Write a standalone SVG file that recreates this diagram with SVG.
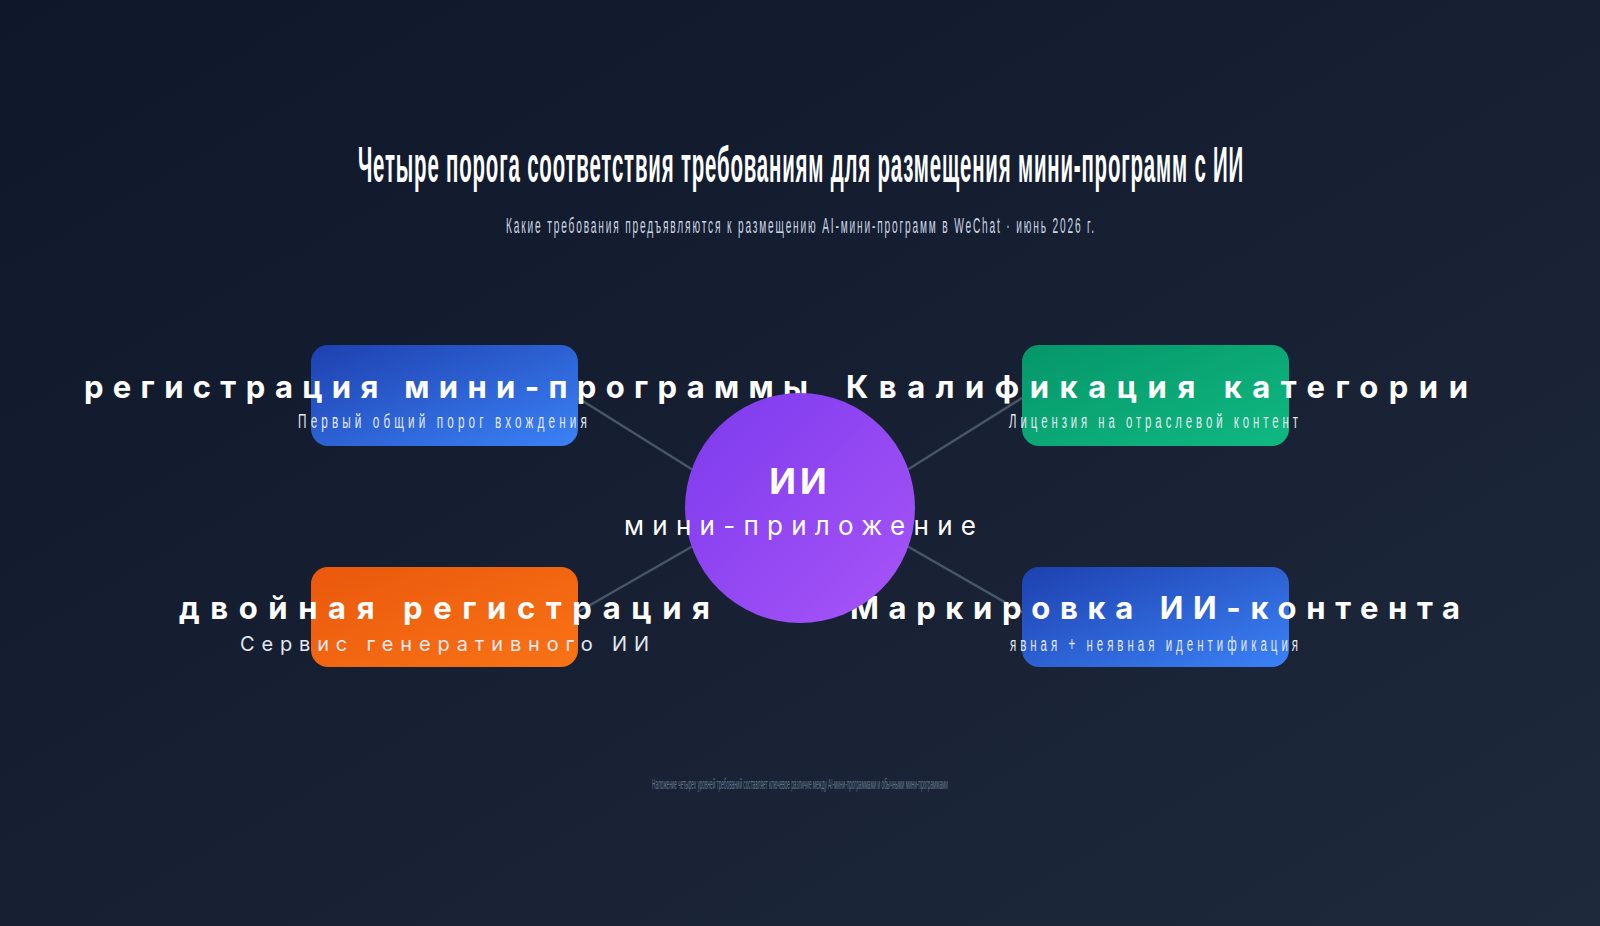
<svg xmlns="http://www.w3.org/2000/svg" width="1600" height="926" viewBox="0 0 1600 926">
<defs>
<linearGradient id="bg" x1="0" y1="0" x2="1" y2="1">
<stop offset="0" stop-color="#0f172a"/>
<stop offset="1" stop-color="#1e293b"/>
</linearGradient>
<linearGradient id="gBlue" x1="0" y1="0" x2="1" y2="1">
<stop offset="0" stop-color="#1e40af"/>
<stop offset="1" stop-color="#3b82f6"/>
</linearGradient>
<linearGradient id="gGreen" x1="0" y1="0" x2="1" y2="1">
<stop offset="0" stop-color="#059669"/>
<stop offset="1" stop-color="#10b981"/>
</linearGradient>
<linearGradient id="gOrange" x1="0" y1="0" x2="1" y2="1">
<stop offset="0" stop-color="#ea580c"/>
<stop offset="1" stop-color="#f97316"/>
</linearGradient>
<linearGradient id="gPurple" x1="0" y1="0" x2="1" y2="1">
<stop offset="0" stop-color="#7c3aed"/>
<stop offset="1" stop-color="#a855f7"/>
</linearGradient>
</defs>
<style>
.title{font-family:"Liberation Sans",Arial,sans-serif;font-weight:bold;font-size:50px;fill:#ffffff;letter-spacing:2px;}
.sub{font-family:"Liberation Sans",Arial,sans-serif;font-size:22px;fill:#cbd5e1;letter-spacing:4px;}
.lbl{font-family:Inter,"Liberation Sans",sans-serif;font-weight:bold;font-size:31px;fill:#ffffff;}
.desc{font-family:"Liberation Sans",Arial,sans-serif;font-size:20px;fill:#e2e8f0;letter-spacing:7px;}
.desc2{font-family:Inter,"Liberation Sans",sans-serif;font-size:20px;fill:#e2e8f0;}
.box{stroke:none;}
.conn{stroke:#475569;stroke-width:2.5;fill:none;}
.foot{font-family:"Liberation Sans",Arial,sans-serif;font-size:14px;fill:#64748b;}
</style>
<rect x="0" y="0" width="1600" height="926" fill="url(#bg)"/>
<g id="header">
<g transform="translate(801,0) scale(0.42,1)">
<text class="title" x="0" y="182" text-anchor="middle" textLength="2110" lengthAdjust="spacingAndGlyphs">Четыре порога соответствия требованиям для размещения мини-программ с ИИ</text>
</g>
<g transform="translate(801,0) scale(0.5,1)">
<text class="sub" x="0" y="233" text-anchor="middle" textLength="1180" lengthAdjust="spacingAndGlyphs">Какие требования предъявляются к размещению AI-мини-программ в WeChat · июнь 2026 г.</text>
</g>
</g>
<g id="connectors">
<line class="conn" x1="578" y1="398" x2="693" y2="470"/>
<line class="conn" x1="907" y1="470" x2="1022" y2="398"/>
<line class="conn" x1="578" y1="612" x2="693" y2="546"/>
<line class="conn" x1="907" y1="546" x2="1022" y2="612"/>
</g>
<g id="node-registration">
<rect class="box" x="311" y="345" width="267" height="101" rx="17" fill="url(#gBlue)"/>
<text class="lbl" x="446" y="398" text-anchor="middle" textLength="724" lengthAdjust="spacing">регистрация мини-программы</text>
<g transform="translate(444.5,0) scale(0.6,1)">
<text class="desc" x="0" y="428" text-anchor="middle" textLength="488" lengthAdjust="spacingAndGlyphs">Первый общий порог вхождения</text>
</g>
</g>
<g id="node-qualification">
<rect class="box" x="1022" y="345" width="267" height="101" rx="17" fill="url(#gGreen)"/>
<text class="lbl" x="1157" y="398" text-anchor="middle" textLength="622" lengthAdjust="spacing">Квалификация категории</text>
<g transform="translate(1155.5,0) scale(0.6,1)">
<text class="desc" x="0" y="428" text-anchor="middle" textLength="488" lengthAdjust="spacingAndGlyphs">Лицензия на отраслевой контент</text>
</g>
</g>
<g id="node-double">
<rect class="box" x="311" y="567" width="267" height="100" rx="17" fill="url(#gOrange)"/>
<text class="lbl" x="444.5" y="619" text-anchor="middle" textLength="531" lengthAdjust="spacing">двойная регистрация</text>
<text class="desc2" x="444.5" y="651" text-anchor="middle" textLength="409" lengthAdjust="spacing">Сервис генеративного ИИ</text>
</g>
<g id="node-marking">
<rect class="box" x="1022" y="567" width="267" height="100" rx="17" fill="url(#gBlue)"/>
<text class="lbl" x="1155" y="619" text-anchor="middle" textLength="610" lengthAdjust="spacing">Маркировка ИИ-контента</text>
<g transform="translate(1156,0) scale(0.6,1)">
<text class="desc" x="0" y="651" text-anchor="middle" textLength="487" lengthAdjust="spacingAndGlyphs">явная + неявная идентификация</text>
</g>
</g>
<g id="node-center">
<circle cx="800" cy="508" r="115" fill="url(#gPurple)"/>
<text x="800" y="494" text-anchor="middle" font-family="Inter, 'Liberation Sans', sans-serif" font-weight="bold" font-size="35" fill="#ffffff" letter-spacing="4">ИИ</text>
<text x="800" y="535" text-anchor="middle" font-family="Inter, 'Liberation Sans', sans-serif" font-size="26" fill="#ffffff" textLength="352" lengthAdjust="spacing">мини-приложение</text>
</g>
<g id="footer">
<g transform="translate(800,0) scale(0.36,1)">
<text class="foot" x="0" y="789" text-anchor="middle" textLength="822" lengthAdjust="spacingAndGlyphs">Наложение четырех уровней требований составляет ключевое различие между AI-мини-программами и обычными мини-программами</text>
</g>
</g>
</svg>
